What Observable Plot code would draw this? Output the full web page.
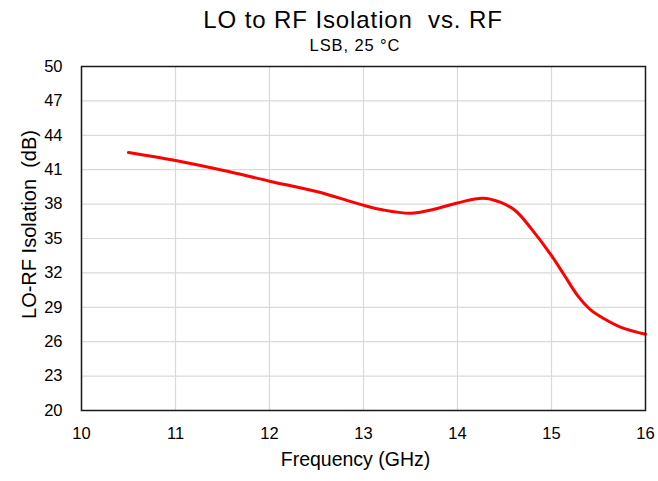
<!DOCTYPE html>
<html>
<head>
<meta charset="utf-8">
<script src="https://cdn.jsdelivr.net/npm/d3@7"></script>
<script src="https://cdn.jsdelivr.net/npm/@observablehq/plot@0.6"></script>
<style>
  html, body { margin: 0; padding: 0; background: #fff; }
  body { width: 658px; height: 481px; overflow: hidden; font-family: "Liberation Sans", Arial, sans-serif; }
  #head { position: relative; height: 58px; }
  #title { position: absolute; left: 0; width: 706px; top: 6px; text-align: center; font-size: 24px; letter-spacing: 0.9px; color: #000; line-height: 28px; }
  #subtitle { position: absolute; left: 0; width: 710px; top: 36px; text-align: center; font-size: 16.5px; letter-spacing: 0.9px; color: #000; line-height: 18px; }
</style>
</head>
<body>
<div id="head">
  <div id="title">LO to RF Isolation&nbsp; vs. RF</div>
  <div id="subtitle">LSB, 25 °C</div>
</div>
<div id="chart"></div>
<script>
// LO-to-RF isolation (dB) measured across the RF band, lower sideband at 25 °C
const freqGHz = [10.5, 11, 11.5, 12, 12.5, 13, 13.2, 13.5, 13.75, 14, 14.27, 14.46, 14.62, 14.78, 15, 15.14, 15.28, 15.42, 15.56, 15.74, 16];
const isolationDb = [42.5, 41.8, 40.95, 40.0, 39.1, 37.9, 37.5, 37.2, 37.55, 38.1, 38.52, 38.15, 37.4, 35.9, 33.5, 31.75, 30.0, 28.75, 28.0, 27.25, 26.65];

const xTicks = [10, 11, 12, 13, 14, 15, 16];
const yTicks = [20, 23, 26, 29, 32, 35, 38, 41, 44, 47, 50];

const xLabel = "Frequency (GHz)";
const yLabel = "LO-RF Isolation  (dB)";

const rows = freqGHz.map((f, i) => ({f, v: isolationDb[i]}));

const chart = Plot.plot({
  width: 658,
  height: 423,
  marginTop: 8,
  marginBottom: 71,
  marginLeft: 81,
  marginRight: 13,
  style: {fontFamily: "Liberation Sans, Arial, sans-serif", fontSize: "16.5px", color: "#000", background: "#fff", overflow: "visible"},
  x: {domain: [10, 16], ticks: xTicks, tickFormat: d => String(d), tickSize: 0, tickPadding: 17, label: null},
  y: {domain: [20, 50], ticks: yTicks, tickFormat: d => String(d), tickSize: 0, tickPadding: 19, label: null},
  marks: [
    Plot.gridX(xTicks, {stroke: "#d9d9d9", strokeOpacity: 1, strokeWidth: 1.2}),
    Plot.gridY(yTicks, {stroke: "#d9d9d9", strokeOpacity: 1, strokeWidth: 1.2}),
    Plot.line(rows, {x: "f", y: "v", stroke: "#ff0000", strokeWidth: 3, curve: "catmull-rom"}),
    Plot.frame({stroke: "#1a1a1a", strokeWidth: 1.5}),
    Plot.text([xLabel], {frameAnchor: "bottom", textAnchor: "middle", dy: 55, dx: -8, fontSize: 19.5, text: d => d, fill: "#000", style: "letter-spacing:0.7px"}),
    Plot.text([yLabel], {frameAnchor: "left", textAnchor: "middle", dx: -52, dy: -14, rotate: -90, fontSize: 20, text: d => d, fill: "#000", style: "letter-spacing:0.6px"})
  ]
});
document.getElementById("chart").appendChild(chart);
</script>
</body>
</html>
